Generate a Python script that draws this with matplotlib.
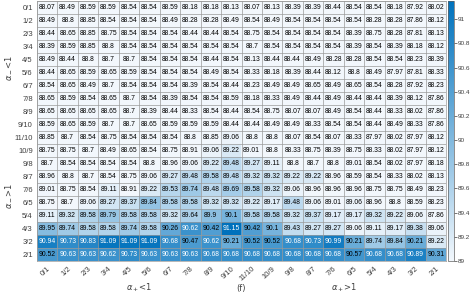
import numpy as np
import matplotlib
matplotlib.use("Agg")
import matplotlib.pyplot as plt
from matplotlib.colors import LinearSegmentedColormap

labels = ['0/1', '1/2', '2/3', '3/4', '4/5', '5/6', '6/7', '7/8', '8/9', '9/10',
          '11/10', '10/9', '9/8', '8/7', '7/6', '6/5', '5/4', '4/3', '3/2', '2/1']

acc = [
    [88.07, 88.49, 88.59, 88.59, 88.54, 88.54, 88.59, 88.18, 88.18, 88.13, 88.07, 88.13, 88.39, 88.39, 88.44, 88.54, 88.54, 88.18, 87.92, 88.02],
    [88.49, 88.8, 88.85, 88.54, 88.54, 88.54, 88.49, 88.28, 88.28, 88.49, 88.54, 88.49, 88.54, 88.54, 88.54, 88.54, 88.28, 88.28, 87.86, 88.12],
    [88.44, 88.65, 88.85, 88.75, 88.54, 88.54, 88.54, 88.44, 88.44, 88.54, 88.75, 88.54, 88.54, 88.54, 88.54, 88.39, 88.75, 88.28, 87.81, 88.13],
    [88.39, 88.59, 88.85, 88.8, 88.54, 88.54, 88.54, 88.54, 88.54, 88.54, 88.7, 88.54, 88.54, 88.54, 88.54, 88.39, 88.54, 88.39, 88.18, 88.12],
    [88.49, 88.44, 88.8, 88.7, 88.7, 88.54, 88.54, 88.54, 88.44, 88.54, 88.13, 88.44, 88.44, 88.49, 88.28, 88.28, 88.54, 88.54, 88.23, 88.39],
    [88.44, 88.65, 88.59, 88.65, 88.59, 88.54, 88.54, 88.54, 88.49, 88.54, 88.33, 88.18, 88.39, 88.44, 88.12, 88.8, 88.49, 87.97, 87.81, 88.33],
    [88.54, 88.65, 88.49, 88.7, 88.54, 88.54, 88.54, 88.39, 88.54, 88.44, 88.23, 88.49, 88.49, 88.65, 88.49, 88.65, 88.54, 88.28, 87.92, 88.23],
    [88.65, 88.59, 88.54, 88.65, 88.7, 88.54, 88.39, 88.54, 88.54, 88.59, 88.18, 88.33, 88.49, 88.44, 88.49, 88.44, 88.44, 88.39, 88.12, 87.86],
    [88.65, 88.65, 88.65, 88.65, 88.7, 88.39, 88.44, 88.33, 88.54, 88.44, 88.54, 88.75, 88.07, 88.07, 88.49, 88.54, 88.44, 88.33, 88.02, 87.86],
    [88.59, 88.65, 88.59, 88.7, 88.7, 88.65, 88.59, 88.59, 88.59, 88.44, 88.44, 88.49, 88.49, 88.33, 88.54, 88.54, 88.44, 88.49, 88.33, 87.86],
    [88.85, 88.7, 88.54, 88.75, 88.54, 88.54, 88.54, 88.8, 88.85, 89.06, 88.8, 88.8, 88.07, 88.54, 88.07, 88.33, 87.97, 88.02, 87.97, 88.12],
    [88.75, 88.75, 88.7, 88.49, 88.65, 88.54, 88.75, 88.91, 89.06, 89.22, 89.01, 88.8, 88.33, 88.75, 88.39, 88.75, 88.33, 88.02, 87.97, 88.12],
    [88.7, 88.54, 88.54, 88.54, 88.54, 88.8, 88.96, 89.06, 89.22, 89.48, 89.27, 89.11, 88.8, 88.7, 88.8, 89.01, 88.54, 88.02, 87.97, 88.18],
    [88.96, 88.8, 88.7, 88.54, 88.75, 89.06, 89.27, 89.48, 89.58, 89.48, 89.32, 89.32, 89.22, 89.22, 88.96, 88.59, 88.54, 88.33, 88.02, 88.13],
    [89.01, 88.75, 88.54, 89.11, 88.91, 89.22, 89.53, 89.74, 89.48, 89.69, 89.58, 89.32, 89.06, 88.96, 88.96, 88.96, 88.75, 88.75, 88.49, 88.23],
    [88.75, 88.7, 89.06, 89.27, 89.37, 89.84, 89.58, 89.58, 89.32, 89.32, 89.22, 89.17, 89.48, 89.06, 89.01, 89.06, 88.96, 88.8, 88.59, 88.23],
    [89.11, 89.32, 89.58, 89.79, 89.58, 89.58, 89.32, 89.64, 89.9, 90.1, 89.58, 89.58, 89.32, 89.37, 89.17, 89.17, 89.32, 89.22, 89.06, 87.86],
    [89.95, 89.74, 89.58, 89.58, 89.74, 89.58, 90.26, 90.62, 90.42, 91.15, 90.42, 90.1, 89.43, 89.27, 89.27, 89.06, 89.11, 89.17, 89.38, 89.06],
    [90.94, 90.73, 90.83, 91.09, 91.09, 91.09, 90.68, 90.47, 90.62, 90.21, 90.52, 90.52, 90.68, 90.73, 90.99, 90.21, 89.74, 89.84, 90.21, 89.22],
    [90.52, 90.63, 90.63, 90.62, 90.73, 90.63, 90.63, 90.63, 90.68, 90.68, 90.68, 90.68, 90.68, 90.68, 90.68, 90.57, 90.68, 90.68, 90.89, 90.31],
]
data = np.array(acc)
n = len(labels)

cmap = LinearSegmentedColormap.from_list('mblue', [(0.95, 0.97, 0.99), (0.0, 0.447, 0.741)])
tick_col = '#404040'

fig = plt.figure(figsize=(4.71, 2.96), dpi=100)
W, H = 471, 296
ax = fig.add_axes([37 / W, 1 - 261 / H, 409 / W, 260 / H])
im = ax.imshow(data, cmap=cmap, vmin=89, vmax=91.15, aspect='auto', interpolation='nearest')

for i in range(n):
    for j in range(n):
        v = data[i, j]
        ax.text(j, i, f'{v:g}', ha='center', va='center', fontsize=4.9,
                family='Liberation Sans', color='white' if v >= 90.6 else 'black')

ax.set_xticks(np.arange(n))
ax.set_yticks(np.arange(n))
ax.set_xticklabels(labels, rotation=42, ha='right', rotation_mode='anchor',
                   fontsize=5.5, color=tick_col, family='Liberation Sans')
ax.set_yticklabels(labels, fontsize=5.5, color=tick_col, family='Liberation Sans')
ax.tick_params(length=0, pad=3)
ax.set_xticks(np.arange(-0.5, n, 1), minor=True)
ax.set_yticks(np.arange(-0.5, n, 1), minor=True)
ax.grid(which='minor', color='#9a9a9a', linewidth=0.5)
ax.tick_params(which='minor', length=0)
for s in ax.spines.values():
    s.set_color('#9a9a9a')
    s.set_linewidth(0.5)

# group labels
fig.text(139 / W, 1 - 288 / H, r'$\alpha_+$<1', ha='center', va='center', fontsize=6, color=tick_col)
fig.text(241 / W, 1 - 288 / H, '(f)', ha='center', va='center', fontsize=6, color=tick_col)
fig.text(344 / W, 1 - 288 / H, r'$\alpha_+$>1', ha='center', va='center', fontsize=6, color=tick_col)
fig.text(8 / W, 1 - 68 / H, r'$\alpha_-$<1', ha='center', va='center', rotation=90, fontsize=6, color=tick_col)
fig.text(8 / W, 1 - 196 / H, r'$\alpha_-$>1', ha='center', va='center', rotation=90, fontsize=6, color=tick_col)

cax = fig.add_axes([448 / W, 1 - 261 / H, 6 / W, 260 / H])
cb = fig.colorbar(im, cax=cax, ticks=[89, 89.2, 89.4, 89.6, 89.8, 90, 90.2, 90.4, 90.6, 90.8, 91])
cb.ax.set_yticklabels(['89', '89.2', '89.4', '89.6', '89.8', '90', '90.2', '90.4', '90.6', '90.8', '91'])
cb.ax.tick_params(labelsize=4.6, colors=tick_col, length=2, width=0.5, pad=1)
for t in cb.ax.get_yticklabels():
    t.set_family('Liberation Sans')
cb.outline.set_linewidth(0.5)
cb.outline.set_edgecolor('#606060')

fig.savefig('out.png', dpi=100)
